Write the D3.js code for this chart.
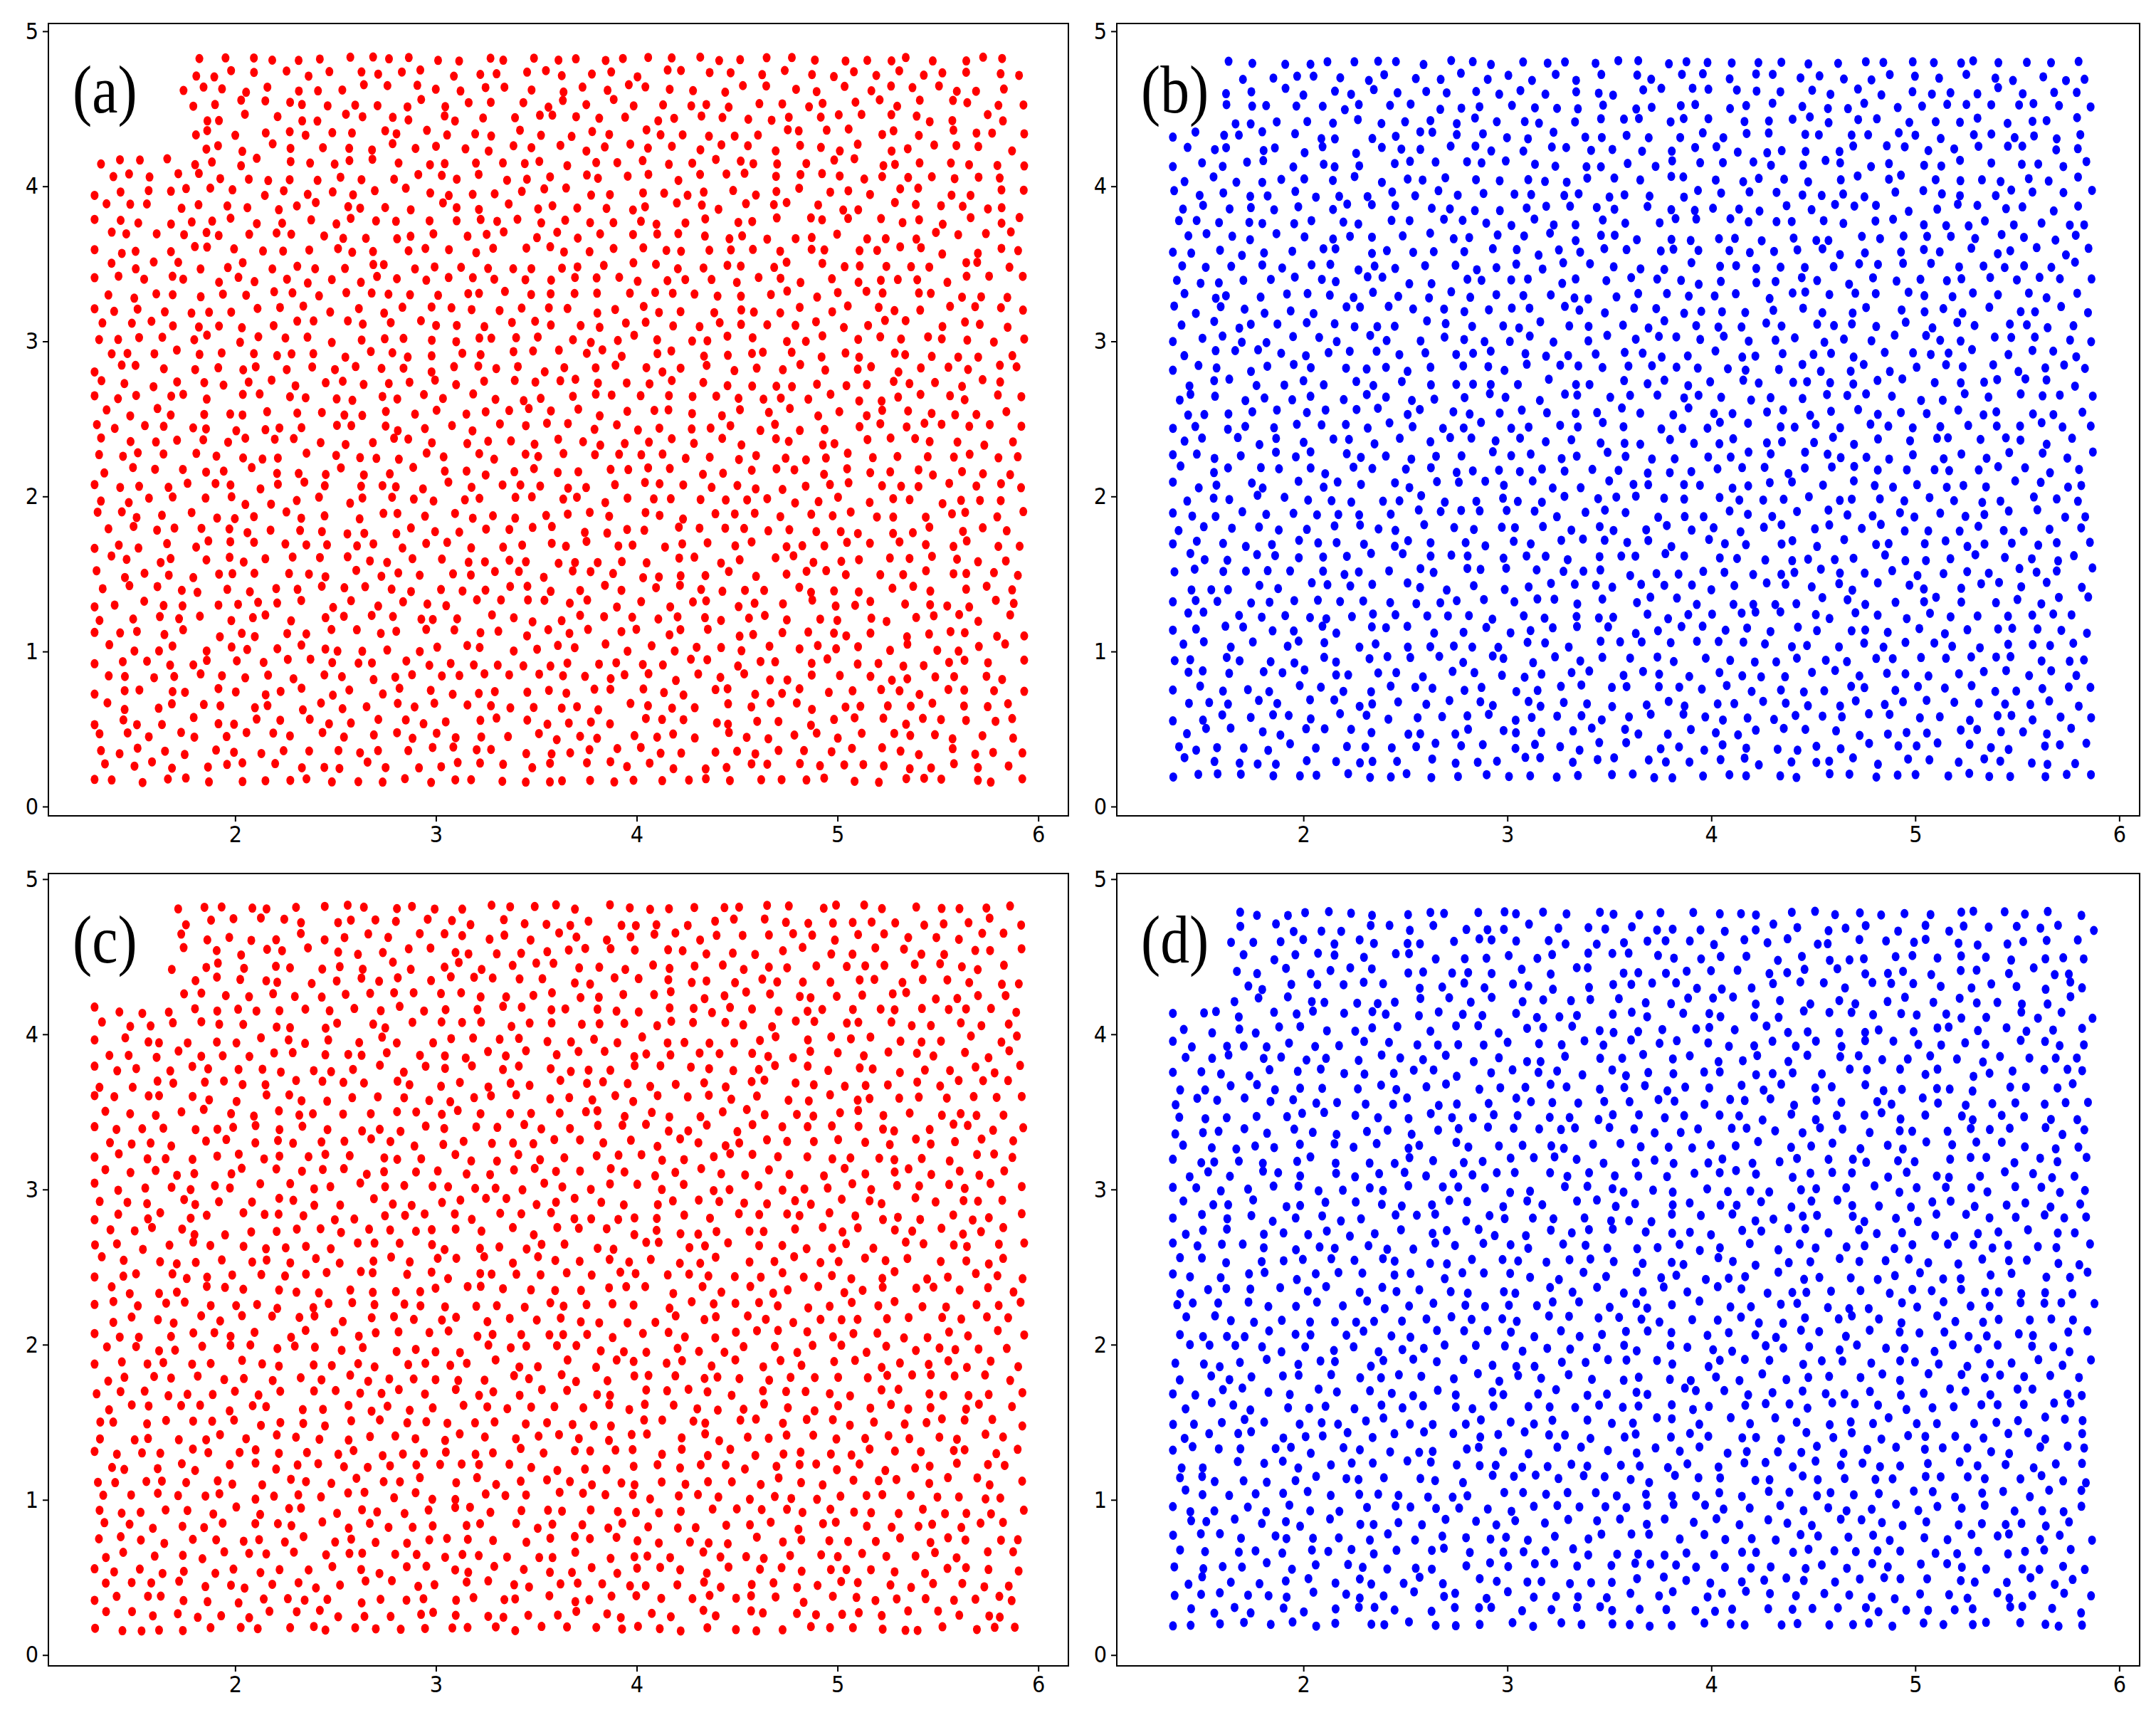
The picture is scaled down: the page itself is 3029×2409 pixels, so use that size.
<!DOCTYPE html>
<html><head><meta charset="utf-8">
<script src="https://cdn.jsdelivr.net/npm/d3@7"></script>
<style>body{margin:0;background:#fff}</style>
</head><body>
<svg id="chart" width="3029" height="2409"></svg>
<script>
// panel labels, colours and extents of the dot cloud
var labels = ["(a)", "(b)", "(c)", "(d)"];
var colors = ["#ff0000", "#0000ff", "#ff0000", "#0000ff"];
var xMin = [1.30, 1.36, 1.30, 1.36];
var xMax = [5.93, 5.88, 5.93, 5.88];
var yMin = [0.17, 0.20, 0.17, 0.20];
var yMax = [4.82, 4.80, 4.82, 4.78];
var notchX = [1.70, 1.62, 1.68, 1.60];   // empty top-left corner
var notchY = [4.20, 4.40, 4.20, 4.18];
var xTicks = [2, 3, 4, 5, 6];
var yTicks = [0, 1, 2, 3, 4, 5];
var xDomains = [[1.07, 6.15], [1.085, 6.10], [1.07, 6.15], [1.085, 6.10]];
var yDomains = [[-0.06, 5.05], [-0.06, 5.05], [-0.07, 5.036], [-0.07, 5.036]];

var frames = [
  {l: 68, r: 1501, t: 33, b: 1146},
  {l: 1569, r: 3006, t: 33, b: 1146},
  {l: 68, r: 1501, t: 1227, b: 2340},
  {l: 1569, r: 3006, t: 1227, b: 2340}
];

var svg = d3.select("#chart");

// deterministic jitter of a packed lattice filling each cloud
function jit(i, j, k) {
  var s = Math.sin(i * 12.9898 + j * 78.233 + k * 37.719) * 43758.5453;
  return s - Math.floor(s) - 0.5;
}

frames.forEach(function (f, p) {
  var x = d3.scaleLinear().domain(xDomains[p]).range([f.l, f.r]);
  var y = d3.scaleLinear().domain(yDomains[p]).range([f.b, f.t]);
  var g = svg.append("g");

  var pts = [];
  var dy = 0.094, dx = 0.118;
  var nr = Math.round((yMax[p] - yMin[p]) / dy);
  for (var i = 0; i <= nr; i++) {
    var yy = yMin[p] + i * (yMax[p] - yMin[p]) / nr;
    var off = (i % 2) * dx / 2;
    for (var xx = xMin[p] + off; xx <= xMax[p] + 0.001; xx += dx) {
      var px = xx + jit(i, xx * 10, p) * 0.07;
      var py = yy + jit(xx * 10, i, p + 5) * 0.05;
      if (i == 0 || i == nr) py = yy + jit(i, xx, p) * 0.03;
      px = Math.max(xMin[p], Math.min(xMax[p], px));
      if (px < notchX[p] && py > notchY[p]) continue;
      pts.push([px, py]);
    }
  }

  g.selectAll("ellipse").data(pts).enter().append("ellipse")
    .attr("cx", d => x(d[0])).attr("cy", d => y(d[1]))
    .attr("rx", 5.5).attr("ry", 6.5)
    .attr("fill", colors[p]);

  g.append("rect").attr("x", f.l).attr("y", f.t)
    .attr("width", f.r - f.l).attr("height", f.b - f.t)
    .attr("fill", "none").attr("stroke", "#000").attr("stroke-width", 2);

  g.append("g").attr("transform", "translate(0," + f.b + ")")
    .call(d3.axisBottom(x).tickValues(xTicks).tickSize(8).tickPadding(6).tickFormat(d3.format("d")))
    .call(a => a.select(".domain").remove());
  g.append("g").attr("transform", "translate(" + f.l + ",0)")
    .call(d3.axisLeft(y).tickValues(yTicks).tickSize(8).tickPadding(6).tickFormat(d3.format("d")))
    .call(a => a.select(".domain").remove());
  g.selectAll(".tick text").attr("font-family", "DejaVu Sans Condensed")
    .attr("font-size", 32).attr("fill", "#000");
  g.selectAll(".tick line").attr("stroke-width", 2);

  g.append("text").attr("x", f.l + 34).attr("y", f.t + 125)
    .attr("font-family", "Liberation Serif").attr("font-size", 96)
    .attr("transform", "scale(0.85,1)").attr("transform-origin", (f.l + 34) + "px " + (f.t + 125) + "px")
    .text(labels[p]);
});
</script>
</body></html>
